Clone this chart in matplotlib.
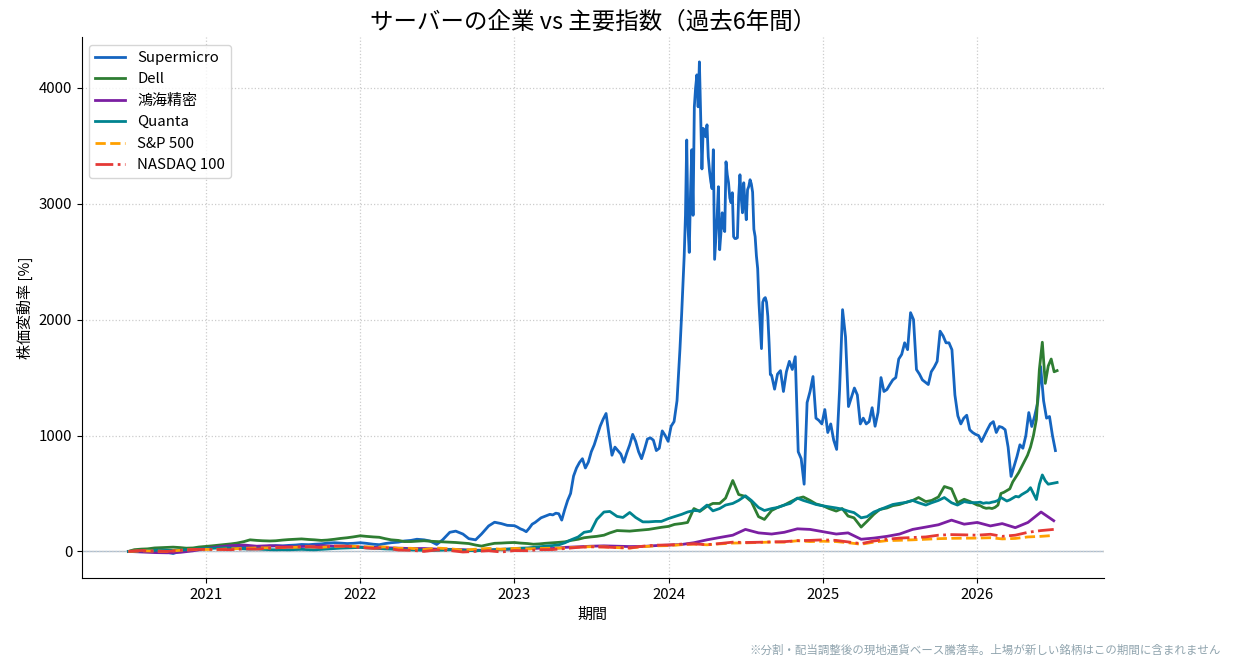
import numpy as np
import pandas as pd
import matplotlib
matplotlib.use('Agg')
import matplotlib.pyplot as plt
import matplotlib.dates as mdates

plt.rcParams['font.family'] = ['Noto Sans CJK JP', 'DejaVu Sans']

# Supermicro: semi-monthly until 2022, weekly after, 3-day steps around the 2024 peak
smci_a = [0, 4, 8, 10, 6, 2, -8, -18, 2, 12, 20, 25,
          30, 35, 38, 36, 32, 35, 40, 42, 38, 40, 45, 50,
          48, 52, 55, 60, 58, 62, 65, 72, 75, 72, 68, 70,
          75, 70, 62, 58, 68, 75, 80, 90, 95, 105, 100, 90,
          60, 100, 165, 175, 150, 110, 100, 150, 220, 252, 240, 225]
smci_b = [222, 210, 195, 185, 170, 200, 235, 250, 270, 290,
          300, 310, 320, 315, 330, 325, 270, 360, 440, 500,
          650, 720, 767, 800, 720, 770, 860, 920, 1000, 1080,
          1140, 1190, 1000, 830, 900, 870, 840, 770, 850, 920,
          1010, 950, 860, 800, 880, 970, 980, 960, 870, 890,
          1040, 1000, 950, 1080, 1120, 1300, 1750]
smci_c = [2050, 2300, 2550, 2900, 3550, 2800, 2580, 3100, 3466, 2900,
          3836, 4000, 4112, 3836, 4224, 3750, 3300, 3650, 3600, 3578,
          3681, 3405, 3280, 3190, 3130, 3466, 2520, 2700, 2888, 3147,
          2603, 2750, 2922, 2800, 2760, 3362, 3250, 3181, 3050, 3009,
          3095, 2716, 2700, 2700, 2707, 3060, 3250, 3050, 2922, 3181,
          3000, 2862, 3121, 3150, 3207, 3170, 3100, 2780, 2716, 2550,
          2440, 2150, 1950, 1750, 2150, 2180, 2190, 2150, 2030, 1800,
          1526]
smci_d = [1520, 1400, 1530, 1560, 1380, 1550, 1640, 1570, 1680, 860,
          800, 580, 1284, 1380, 1509, 1150, 1130, 1100, 1224, 1026,
          1100, 960, 880, 1400, 2086, 1850, 1250, 1330, 1410, 1350,
          1100, 1150, 1100, 1120, 1240, 1080, 1200, 1500, 1380, 1397,
          1440, 1480, 1500, 1660, 1700, 1800, 1741, 2060, 2000, 1569,
          1530, 1480, 1460, 1440, 1550, 1590, 1640, 1900, 1860, 1800,
          1800, 1740, 1350, 1170, 1100, 1150, 1175, 1050, 1026, 1010,
          1000, 948, 1000, 1052, 1100, 1120, 1026, 1078, 1070, 1050,
          900, 647, 733, 819, 920, 890, 1000, 1198, 1078, 1170,
          1284, 1595, 1300, 1150, 1164, 1000, 870]

# Dell / Quanta: semi-monthly until 2025, weekly in 2026
dell_a = [0, 15, 20, 22, 30, 32, 35, 37, 33, 28, 30, 38,
          43, 48, 55, 60, 65, 72, 85, 100, 95, 92, 90, 92,
          98, 102, 105, 108, 103, 100, 95, 98, 105, 112, 118, 125,
          135, 130, 125, 122, 110, 100, 95, 85, 85, 88, 92, 88,
          85, 82, 80, 77, 72, 68, 55, 46, 60, 70, 72, 75,
          77, 72, 68, 62, 65, 70, 74, 78, 83, 95, 105, 118,
          125, 130, 140, 160, 180, 178, 175, 180, 185, 190, 200, 208,
          216, 233, 241, 250, 370, 345, 390, 414, 414, 460, 612, 491,
          474, 430, 300, 276, 353, 379, 400, 427, 457, 470, 440, 410,
          393, 370, 348, 370, 305, 290, 210, 260, 320, 362, 375, 395,
          405, 422, 440, 465, 430, 440, 470, 560, 540, 420, 450, 430]
dell_b = [400, 395, 380, 372, 375, 370, 380, 400, 500, 510, 525, 540, 600, 640,
          680, 730, 780, 830, 900, 1000, 1140, 1570, 1805, 1450, 1600, 1660, 1550, 1560]

quanta_a = [0, 3, 6, 8, 10, 12, 10, 8, 12, 15, 18, 22,
            25, 28, 30, 32, 28, 25, 22, 20, 22, 18, 15, 14,
            15, 14, 16, 18, 15, 14, 18, 22, 25, 28, 30, 32,
            35, 30, 28, 25, 22, 20, 18, 15, 14, 12, 10, 8,
            10, 12, 15, 12, 10, 8, 5, 8, 12, 15, 18, 20,
            25, 28, 30, 35, 40, 45, 50, 55, 75, 100, 125, 165,
            175, 276, 340, 345, 302, 293, 336, 293, 255, 255, 259, 259,
            284, 300, 320, 340, 353, 350, 400, 350, 370, 400, 414, 440,
            480, 440, 379, 353, 370, 379, 400, 414, 460, 440, 422, 405,
            393, 385, 375, 365, 348, 335, 290, 300, 340, 360, 385, 405,
            415, 422, 440, 420, 400, 420, 440, 465, 420, 400, 430, 420]
quanta_b = [422, 425, 415, 420, 418, 425, 430, 440, 465, 450, 435, 445, 460, 475,
            470, 490, 505, 520, 550, 500, 448, 580, 660, 610, 580, 585, 590, 595]

# monthly
honhai = [0, -5, -10, -12, -8, 5,
          25, 40, 50, 55, 45, 50, 45, 40, 45, 50, 45, 40,
          38, 35, 32, 28, 25, 25, 20, 18, 15, 10, 12, 18,
          20, 22, 28, 25, 35, 40, 45, 48, 45, 42, 43, 50,
          55, 60, 75, 100, 120, 140, 190, 160, 150, 165, 195, 190,
          170, 150, 160, 105, 115, 130, 150, 190, 210, 230, 270, 235,
          250, 220, 240, 205, 250, 340, 265]
sp500 = [0, 5, 3, 0, 10, 15,
         17, 18, 22, 27, 30, 31, 33, 36, 40, 36, 43, 47,
         42, 36, 39, 27, 27, 16, 29, 23, 11, 19, 26, 19,
         26, 22, 25, 28, 29, 37, 41, 39, 33, 29, 41, 48,
         50, 58, 63, 57, 65, 72, 74, 77, 81, 80, 92, 85,
         88, 85, 75, 62, 80, 93, 96, 100, 105, 110, 113, 114,
         115, 118, 108, 112, 125, 130, 138]
ndx100 = [0, 8, 3, 0, 10, 17,
          18, 17, 15, 22, 20, 28, 35, 38, 40, 34, 47, 45,
          35, 26, 32, 12, 10, 0, 13, 8, -5, 0, 6, -5,
          7, 6, 15, 16, 25, 35, 40, 38, 33, 30, 45, 54,
          55, 63, 65, 58, 68, 80, 77, 79, 82, 84, 93, 95,
          100, 95, 82, 67, 90, 105, 115, 120, 125, 140, 145, 143,
          140, 148, 130, 140, 165, 180, 190]

smci_dates = (pd.date_range('2020-07-01', periods=len(smci_a), freq='SMS')
              .append(pd.date_range('2023-01-01', periods=len(smci_b), freq='7D'))
              .append(pd.date_range('2024-02-01', periods=len(smci_c), freq='3D'))
              .append(pd.date_range('2024-09-01', periods=len(smci_d), freq='7D')))
mid_dates = (pd.date_range('2020-07-01', periods=len(dell_a), freq='SMS')
             .append(pd.date_range('2026-01-01', periods=len(dell_b), freq='7D')))
month_dates = pd.date_range('2020-07-01', periods=len(sp500), freq='MS')

fig, ax = plt.subplots(figsize=(12.33, 6.66), dpi=100)
fig.subplots_adjust(left=0.0665, right=0.895, bottom=0.132, top=0.944)

ax.axhline(0, color='#aebfd0', lw=1, zorder=1)
ax.plot(smci_dates, smci_a + smci_b + smci_c + smci_d, color='#1565c0', lw=2, label='Supermicro')
ax.plot(mid_dates, dell_a + dell_b, color='#2e7d32', lw=2, label='Dell')
ax.plot(month_dates, honhai, color='#7b1fa2', lw=2, label='鴻海精密')
ax.plot(mid_dates, quanta_a + quanta_b, color='#00838f', lw=2, label='Quanta')
ax.plot(month_dates, sp500, color='#ffa000', lw=2, ls='--', label='S&P 500')
ax.plot(month_dates, ndx100, color='#e53935', lw=2, ls='-.', label='NASDAQ 100')

ax.xaxis.set_major_locator(mdates.YearLocator())
ax.xaxis.set_major_formatter(mdates.DateFormatter('%Y'))
ax.grid(True, ls=':', color='#cccccc', lw=0.9)
ax.spines['top'].set_visible(False)
ax.spines['right'].set_visible(False)
ax.tick_params(labelsize=10.8)

ax.set_title('サーバーの企業 vs 主要指数（過去6年間）', fontsize=16.9)
ax.set_xlabel('期間', fontsize=10.8)
ax.set_ylabel('株価変動率 [%]', fontsize=10.8)
ax.legend(loc='upper left', fontsize=10.8, labelspacing=0.5)

fig.text(0.99, 0.018, '※分割・配当調整後の現地通貨ベース騰落率。上場が新しい銘柄はこの期間に含まれません',
         ha='right', fontsize=8.25, color='#90a4ae')

fig.savefig('out.png', dpi=100)
